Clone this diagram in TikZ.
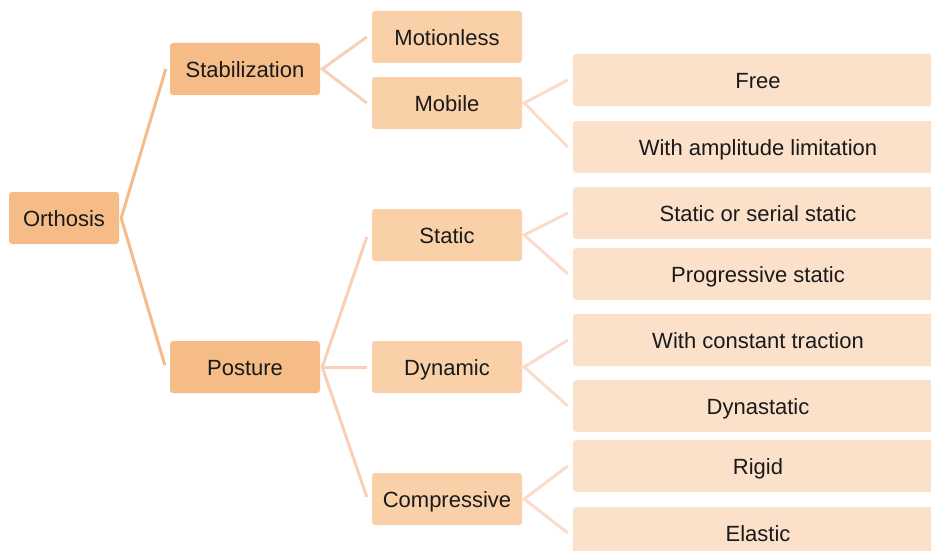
\documentclass[tikz,border=0pt]{standalone}
\usepackage{fontspec}
\setmainfont{Liberation Sans}
\usetikzlibrary{calc}
\definecolor{lvA}{HTML}{F5BC88}
\definecolor{lvB}{HTML}{F9D0A8}
\definecolor{lvC}{HTML}{FBE0CA}
\definecolor{lnA}{HTML}{F5BC88}
\definecolor{lnB}{HTML}{F8D0B8}
\definecolor{lnC}{HTML}{F9DCCC}
\definecolor{txt}{HTML}{1A1A1A}
\tikzset{
  base/.style={rounded corners=3pt, minimum height=52pt, inner sep=0pt, text height=17.5pt, text depth=0pt, text=txt, font=\fontsize{22pt}{24pt}\selectfont},
  boxA/.style={base, fill=lvA},
  boxB/.style={base, fill=lvB, minimum width=150pt},
  boxC/.style={base, fill=lvC, minimum width=370pt},
  linkA/.style={draw=lnA, line width=3pt},
  linkB/.style={draw=lnB, line width=3pt},
  linkC/.style={draw=lnC, line width=3pt},
}
\begin{document}
\begin{tikzpicture}[x=1pt,y=-1pt]
\useasboundingbox (0,0) rectangle (931,551);
\begin{scope}
\clip (0,0) rectangle (931,551);
% level 1
\node[boxA, minimum width=110pt] (orth) at (64,218) {Orthosis};
\node[boxA, minimum width=150pt] (stab) at (245,69) {Stabilization};
\node[boxA, minimum width=150pt] (post) at (245,367) {Posture};
% level 2
\node[boxB] (motion) at (447,37) {Motionless};
\node[boxB] (mobile) at (447,103) {Mobile};
\node[boxB] (static) at (447,235) {Static};
\node[boxB] (dyn) at (447,367) {Dynamic};
\node[boxB] (comp) at (447,499) {Compressive};
% level 3
\node[boxC] (free) at (758,80) {Free};
\node[boxC] (ampl) at (758,147) {With amplitude limitation};
\node[boxC] (sser) at (758,213) {Static or serial static};
\node[boxC] (prog) at (758,274) {Progressive static};
\node[boxC] (ctr) at (758,340) {With constant traction};
\node[boxC] (dyna) at (758,406) {Dynastatic};
\node[boxC] (rigid) at (758,466) {Rigid};
\node[boxC] (elast) at (758,533) {Elastic};
\end{scope}
% junctions
\coordinate (jO) at ($(orth.east)+(2,0)$);
\coordinate (jS) at ($(stab.east)+(2,0)$);
\coordinate (jP) at ($(post.east)+(2,0)$);
\coordinate (jM) at ($(mobile.east)+(2,0)$);
\coordinate (jT) at ($(static.east)+(2,0)$);
\coordinate (jD) at ($(dyn.east)+(2,0)$);
\coordinate (jC) at ($(comp.east)+(2,0)$);
% connectors
\draw[linkA] ($(stab.west)+(-4,0)$) -- (jO) -- ($(post.west)+(-5,-2)$);
\draw[linkB] ($(motion.west)+(-5,0)$) -- (jS) -- ($(mobile.west)+(-5,0)$);
\draw[linkB] ($(static.west)+(-5,2)$) -- (jP) -- ($(comp.west)+(-5,-2)$);
\draw[linkB] (jP) -- ($(dyn.west)+(-5,0)$);
\draw[linkC] ($(free.west)+(-5,0)$) -- (jM) -- ($(ampl.west)+(-5,0)$);
\draw[linkC] ($(sser.west)+(-5,0)$) -- (jT) -- ($(prog.west)+(-5,0)$);
\draw[linkC] ($(ctr.west)+(-5,0)$) -- (jD) -- ($(dyna.west)+(-5,0)$);
\draw[linkC] ($(rigid.west)+(-5,0)$) -- (jC) -- ($(elast.west)+(-5,0)$);
\end{tikzpicture}
\end{document}
